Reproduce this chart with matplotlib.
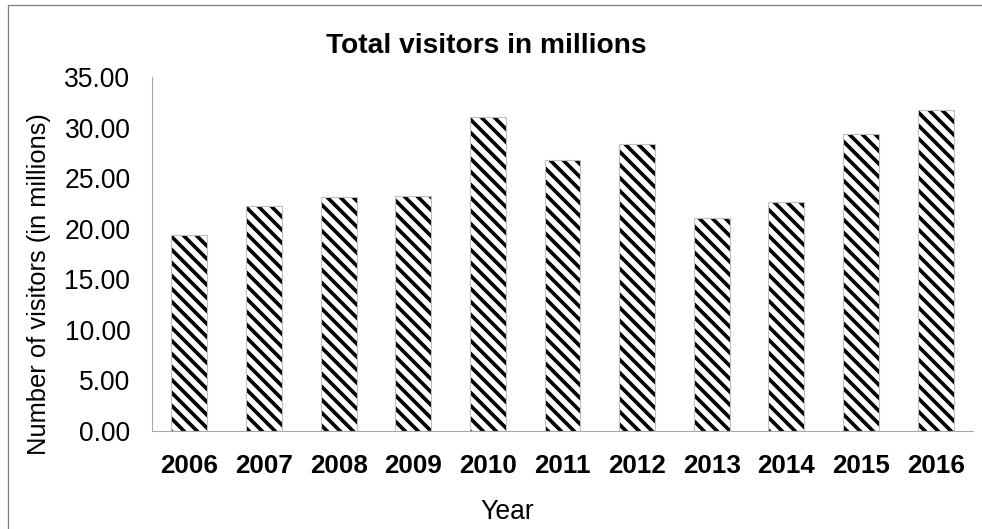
import matplotlib
matplotlib.use("Agg")
import matplotlib.pyplot as plt
from matplotlib.patches import Rectangle

# data
years = ["2006", "2007", "2008", "2009", "2010", "2011",
         "2012", "2013", "2014", "2015", "2016"]
visitors = [19.4, 22.2, 23.1, 23.2, 31.05, 26.8, 28.4, 21.1, 22.6, 29.4, 31.7]
y_ticks = [0, 5, 10, 15, 20, 25, 30, 35]

W, H, DPI = 982, 529, 78
plt.rcParams['font.family'] = ['Liberation Sans', 'DejaVu Sans']
plt.rcParams['hatch.linewidth'] = 3.4

fig = plt.figure(figsize=(W / DPI, H / DPI), dpi=DPI)
ax = fig.add_axes([152 / W, 1 - 431 / H, (973 - 152) / W, (431 - 77) / H])

x = range(len(years))
# hatched fill (black stripes), then thin grey outline on top
ax.bar(x, visitors, width=0.48, color='white', edgecolor='black',
       hatch='\\\\', linewidth=0, zorder=2)
ax.bar(x, visitors, width=0.48, facecolor='none', edgecolor='#BFBFBF',
       linewidth=1.0, zorder=3)

ax.set_xlim(-0.5, len(years) - 0.5)
ax.set_ylim(0, 35)
ax.set_yticks(y_ticks)
ax.set_yticklabels([f"{v:.2f}" for v in y_ticks], fontsize=24.5)
ax.set_xticks(list(x))
ax.set_xticklabels(years, fontsize=24, fontweight='bold')
ax.tick_params(axis='both', length=0)
ax.tick_params(axis='y', pad=20)
ax.tick_params(axis='x', pad=21)

for s in ('top', 'right'):
    ax.spines[s].set_visible(False)
ax.spines['left'].set_color('#A6A6A6')
ax.spines['bottom'].set_color('#A6A6A6')
ax.spines['left'].set_linewidth(1.0)
ax.spines['bottom'].set_linewidth(1.0)

# axis titles are placed relative to the chart area, not the plot area
fig.text(39 / W, 1 - 284 / H, "Number of visitors (in millions)", fontsize=23.5,
         rotation=90, ha='center', va='center')
fig.text(507 / W, 1 - 512 / H, "Year", fontsize=24.5, ha='center', va='center')
fig.text(486 / W, 1 - 46 / H, "Total visitors in millions", fontsize=26,
         fontweight='bold', ha='center', va='center')

# chart-area border (cropped: only top and left visible)
fig.patches.append(Rectangle((8 / W, -0.1), 1.2, 1 - 5 / H + 0.1,
                             transform=fig.transFigure, fill=False,
                             edgecolor='#808080', linewidth=1.2))

fig.savefig("out.png", dpi=DPI)
